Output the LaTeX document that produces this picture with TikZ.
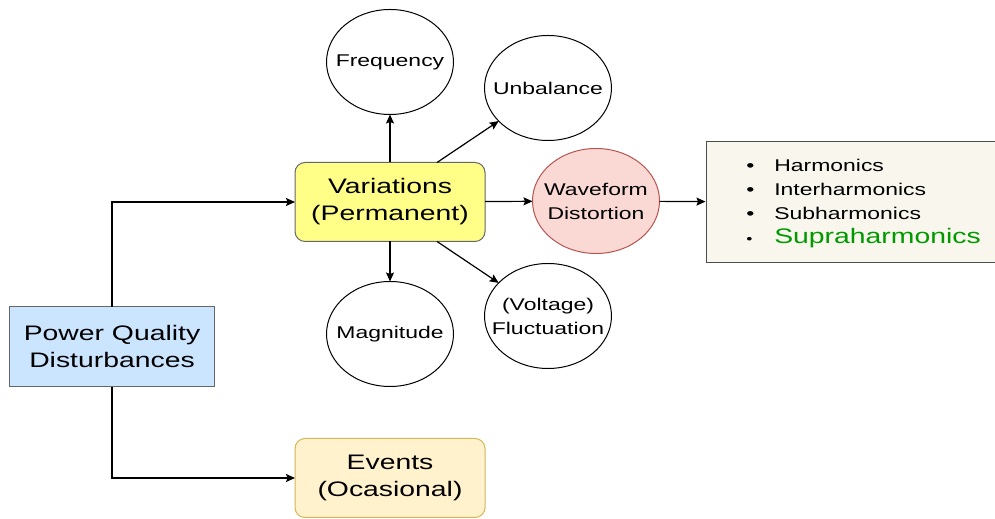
\documentclass[tikz,border=0pt]{standalone}
\usepackage{fontspec}
\setmainfont[FakeStretch=1.35]{Liberation Sans}
\setsansfont[FakeStretch=1.35]{Liberation Sans}
\usepackage{tkz-graph}
\usetikzlibrary{arrows.meta}
\usetikzlibrary{shapes}

\definecolor{pqBlue}{HTML}{CCE5FF}
\definecolor{varYellow}{HTML}{FFFF88}
\definecolor{evtFill}{HTML}{FFF2CC}
\definecolor{evtLine}{HTML}{D6B656}
\definecolor{wavFill}{HTML}{FAD9D5}
\definecolor{wavLine}{HTML}{B85450}
\definecolor{listFill}{HTML}{F9F7ED}
\definecolor{supraGreen}{HTML}{009900}

\begin{document}
\begin{tikzpicture}[x = 1bp, y = 1bp, font=\sffamily]
	\useasboundingbox (0,0) rectangle (995,519);
	\tikzstyle{VertexStyle} = []
	\tikzstyle{EdgeStyle} = [-{Stealth[length=9bp, width=8bp, inset=1.5bp]}, line width = 1.2bp]
	\tikzstyle{boxStyle}=[shape = rectangle, draw = black!60, line width = 1bp, align = center, inner sep = 0pt, font = \fontsize{21bp}{27bp}\selectfont]
	\tikzstyle{roundStyle}=[boxStyle, rounded corners = 10bp, minimum width = 190bp, minimum height = 79bp]
	\tikzstyle{circleStyle}=[shape = ellipse, draw, line width = 1bp, minimum width = 127bp, minimum height = 105bp, inner xsep = -16bp, inner ysep = -8bp, align = center, font = \fontsize{17bp}{24bp}\selectfont]
	\Vertex[style = {boxStyle, fill = pqBlue, minimum width = 205bp, minimum height = 80bp}, x = 112, y = 172, L = {Power Quality\\Disturbances}]{pqd}
	\Vertex[style = {roundStyle, fill = varYellow}, x = 390, y = 317, L = {Variations\\(Permanent)}]{var}
	\Vertex[style = {roundStyle, fill = evtFill, draw = evtLine}, x = 390, y = 41, L = {Events\\(Ocasional)}]{evt}
	\Vertex[style = circleStyle, x = 390, y = 457, L = {Frequency}]{freq}
	\Vertex[style = circleStyle, x = 548, y = 431, L = {Unbalance}]{unb}
	\Vertex[style = {circleStyle, fill = wavFill, draw = wavLine}, x = 596, y = 318, L = {Waveform\\Distortion}]{wav}
	\Vertex[style = circleStyle, x = 390, y = 185, L = {Magnitude}]{mag}
	\Vertex[style = circleStyle, x = 548, y = 203, L = {(Voltage)\\Fluctuation}]{fluc}
	\node[boxStyle, fill = listFill, draw = black!70, text = black, minimum width = 289bp, minimum height = 121bp, font = \fontsize{17bp}{24bp}\selectfont] (list) at (850.5, 316.5) {\hspace{26bp}\begin{tabular}{@{}l@{\hspace{20bp}}l@{}}\textbullet & Harmonics\\ \textbullet & Interharmonics\\ \textbullet & Subharmonics\\ {\fontsize{13bp}{24bp}\selectfont\textbullet} & {\fontsize{21bp}{24bp}\selectfont\color{supraGreen}Supraharmonics}\end{tabular}};
	\draw[EdgeStyle] (pqd.north) |- (var.west);
	\draw[EdgeStyle] (pqd.south) |- (evt.west);
	\Edge(var)(freq)
	\Edge(var)(mag)
	\Edge(var)(wav)
	\Edge(wav)(list)
	\draw[EdgeStyle] ([xshift = 47bp]var.north) -- (unb);
	\draw[EdgeStyle] ([xshift = 47bp]var.south) -- (fluc);
\end{tikzpicture}
\end{document}
